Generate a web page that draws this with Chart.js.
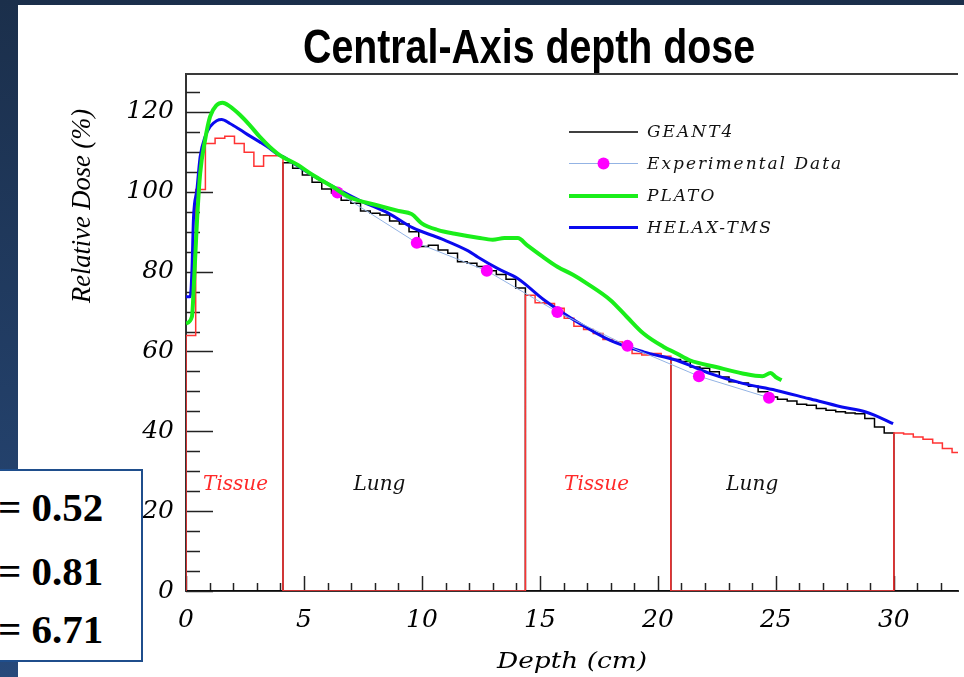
<!DOCTYPE html>
<html lang="es">
<head>
<meta charset="utf-8">
<title>Central-Axis depth dose</title>
<script src="https://cdn.jsdelivr.net/npm/chart.js@4.4.1/dist/chart.umd.min.js"></script>
<style>
  html, body { margin: 0; padding: 0; width: 964px; height: 677px; overflow: hidden; }
  body { position: relative; background: linear-gradient(#1b2f4b, #27497a); }
  #hoja { position: absolute; left: 18px; top: 5px; right: 0; bottom: 0; background: #fff; }
  #myChart { position: absolute; left: 0; top: 0; }
  .caja { position: absolute; left: -4px; top: 469px; width: 147px; height: 193px; box-sizing: border-box;
          background: #fff; border: 2px solid #1f4e8c; }
  .caja div { position: absolute; left: 0; font: bold 41px "Liberation Serif", "Times New Roman", serif;
              line-height: 41px; color: #000; white-space: nowrap; }
</style>
</head>
<body>
<div id="hoja"></div>
<canvas id="myChart" width="964" height="677"></canvas>
<div class="caja">
  <div style="top:16px">= 0.52</div>
  <div style="top:80px">= 0.81</div>
  <div style="top:138px">= 6.71</div>
</div>

<script>
// Datos (profundidad en cm, dosis relativa en %)
const ticksX = [0, 5, 10, 15, 20, 25, 30]
const ticksY = [0, 20, 40, 60, 80, 100, 120]

// GEANT4: histograma con bins de ancho fijo, por zonas
const anchoBin = 0.411
const tejido1 = [64, 100.6, 112.1, 113.4, 113.9, 112.1, 109.9, 106.4, 109, 109]
const pulmon1 = [107.3, 105.9, 104.2, 102.4, 100.7, 99.7, 97.9, 97.1, 95.2, 94.6, 94.2, 92.7, 91.9,
                 90, 86.3, 86.6, 85.4, 84.6, 82.5, 82.1, 81.3, 80.2, 79.3, 78.1, 75.9]
const tejido2 = [74.1, 72.2, 72, 70.8, 68.3, 66.3, 65.5, 64.5, 63, 62.4, 61.8, 59.5, 59.1, 59.5, 58.8]
const pulmon2 = [58, 57.5, 56.1, 55.8, 54.9, 53.6, 52.4, 52.1, 51.3, 49.9, 48.6, 48, 47.6, 46.8,
                 46.5, 45.7, 45.3, 44.9, 44.6, 44.4, 43.2, 41.1, 39.6]
const tejido3 = [39.6, 39.3, 38.6, 38, 37.1, 35.7, 34.7]

// PLATO
const platoX = [0, 0.25, 0.35, 0.46, 0.6, 0.81, 1.02, 1.3, 1.55, 1.86, 2.28, 2.7, 3.12, 3.54, 3.97,
                4.74, 5.37, 6.2, 6.91, 8.17, 9.0, 9.57, 9.99, 10.69, 11.4, 12.38, 13.0, 13.5, 14.06,
                14.48, 15.1, 15.74, 16.4, 17.0, 17.98, 18.68, 19.39, 20.23, 20.8, 21.35, 22.47, 23.59,
                24.43, 24.78, 24.99, 25.24]
const platoY = [67, 68.7, 78.7, 92, 104.6, 113, 118.8, 121.7, 122.3, 121.4, 119.3, 116.7, 113.8, 111.3,
                109.2, 106.7, 104.2, 101.3, 98.7, 96.5, 95.2, 94.4, 92.1, 90.4, 89.5, 88.5, 88, 88.4,
                88.4, 86.5, 83.8, 81.2, 79.2, 77, 72.9, 68.7, 64.5, 61.2, 59.5, 57.8, 56.1, 54.5,
                53.8, 54.6, 53.6, 52.8]

// HELAX-TMS
const helaxX = [0, 0.18, 0.25, 0.32, 0.46, 0.6, 0.81, 1.02, 1.3, 1.51, 1.86, 2.28, 2.7, 3.12, 3.54,
                3.83, 4.1, 5.23, 6.35, 7.47, 8.59, 9.6, 10.83, 11.96, 12.38, 13.2, 14.06, 15.18, 16.58,
                17.98, 19.39, 20.79, 22.19, 23.59, 24.99, 26.39, 27.8, 28.78, 29.2, 29.97]
const helaxY = [73.7, 73.7, 80, 93.7, 100.4, 108.8, 113.8, 116.3, 117.8, 118.1, 117.1, 115.6, 114,
                112.5, 110.9, 109.6, 108.8, 104.6, 100.9, 97.5, 94.6, 91, 88.2, 85.2, 83.6, 80.8,
                78.3, 72.9, 67.4, 62.8, 59.9, 57.8, 54.5, 52, 50.3, 48.2, 46.1, 44.9, 44, 41.9]

// Datos experimentales
const expX = [6.42, 9.78, 12.75, 15.74, 18.71, 21.74, 24.71]
const expY = [99.8, 87.2, 80.2, 69.9, 61.4, 53.8, 48.4]

// Rotulos de las zonas
const zonas = ['Tissue', 'Lung', 'Tissue', 'Lung']
const zonasX = [2.1, 8.2, 17.4, 24.0]
const zonasY = 27


const pares = (xs, ys) => xs.map((x, i) => ({x: x, y: ys[i]}))

// arma el contorno del histograma, las zonas que no se usan quedan en cero
const partes = [tejido1, pulmon1, tejido2, pulmon2, tejido3]
function histograma(usar){
    let puntos = [{x: 0, y: 0}]
    let i = 0
    partes.forEach((vals, p) => {
        vals.forEach(v => {
            puntos.push({x: i * anchoBin, y: usar.includes(p) ? v : 0})
            i++
        })
    })
    puntos.push({x: i * anchoBin, y: 0})
    return puntos
}

const serifIt = '"DejaVu Serif", "Liberation Serif", serif'
const timesIt = '"Liberation Serif", "Times New Roman", serif'

function texto(ctx, str, x, y, fuente, color, ancho){
    ctx.save()
    ctx.font = fuente
    ctx.fillStyle = color
    ctx.textAlign = 'center'
    ctx.textBaseline = 'alphabetic'
    ctx.translate(x, y)
    if (ancho) {
        ctx.scale(ancho / ctx.measureText(str).width, 1)
    }
    ctx.fillText(str, 0, 0)
    ctx.restore()
}

// marco estilo ROOT: ticks hacia adentro, textos y leyenda
const marco = {
    id: 'marco',
    beforeDatasetsDraw(chart){
        const {ctx, chartArea: a, scales: {x, y}} = chart
        ctx.save()
        ctx.strokeStyle = '#3a3a3a'
        ctx.lineWidth = 2
        ctx.beginPath()
        ctx.moveTo(a.left, a.top)
        ctx.lineTo(a.right, a.top)
        ctx.stroke()

        ctx.strokeStyle = '#222'
        ctx.lineWidth = 1.5
        for (let v = 0; v <= y.max; v += 5) {
            const py = Math.round(y.getPixelForValue(v)) + 0.5
            const largo = v % 20 === 0 ? 27 : 14
            ctx.beginPath()
            ctx.moveTo(a.left, py)
            ctx.lineTo(a.left + largo, py)
            ctx.stroke()
        }
        for (let v = 0; v <= x.max; v++) {
            const px = Math.round(x.getPixelForValue(v)) + 0.5
            const largo = v % 5 === 0 ? 15 : 8
            ctx.beginPath()
            ctx.moveTo(px, a.bottom)
            ctx.lineTo(px, a.bottom - largo)
            ctx.stroke()
        }
        ctx.restore()
    },
    afterDraw(chart){
        const {ctx, scales: {x, y}} = chart

        texto(ctx, 'Central-Axis depth dose', 529, 63,
              'bold 48px "Liberation Sans Narrow", "Liberation Sans", sans-serif', '#000', 452)

        // titulos de los ejes
        ctx.save()
        ctx.translate(90, 206)
        ctx.rotate(-Math.PI / 2)
        texto(ctx, 'Relative Dose (%)', 0, 0, 'italic 28px ' + timesIt, '#000', 194)
        ctx.restore()
        texto(ctx, 'Depth (cm)', 572, 668, 'italic 23px ' + serifIt, '#000', 150)

        // zonas
        zonas.forEach((z, i) => {
            ctx.save()
            ctx.font = 'italic 20px ' + serifIt
            ctx.fillStyle = z === 'Tissue' ? '#ff2a2a' : '#111'
            ctx.textAlign = 'center'
            ctx.textBaseline = 'middle'
            ctx.fillText(z, x.getPixelForValue(zonasX[i]), y.getPixelForValue(zonasY) + 2)
            ctx.restore()
        })

        // leyenda
        const items = chart.data.datasets.filter(d => d.enLeyenda !== false)
        const filas = [132, 163.5, 196, 227.5]
        items.forEach((d, i) => {
            const fy = filas[i]
            ctx.save()
            ctx.strokeStyle = d.borderColor
            ctx.lineWidth = d.borderWidth
            ctx.beginPath()
            ctx.moveTo(569, fy)
            ctx.lineTo(638, fy)
            ctx.stroke()
            if (d.pointRadius > 0) {
                ctx.fillStyle = d.pointBackgroundColor
                ctx.beginPath()
                ctx.arc(603.5, fy, d.pointRadius, 0, Math.PI * 2)
                ctx.fill()
            }
            ctx.font = 'italic 17px ' + serifIt
            ctx.letterSpacing = '2px'
            ctx.fillStyle = '#111'
            ctx.textAlign = 'left'
            ctx.textBaseline = 'middle'
            ctx.fillText(d.label, 647, fy + 1)
            ctx.restore()
        })
    }
}

const ctx = document.getElementById('myChart')

new Chart(ctx, {
    type: 'line',
    data: {
        datasets: [
            {
                label: 'GEANT4',
                data: histograma([1, 3]),
                borderColor: '#000',
                borderWidth: 1.5,
                stepped: true,
                pointRadius: 0,
                order: 5
            },
            {
                label: 'Experimental Data',
                data: pares(expX, expY),
                borderColor: '#93b3e4',
                borderWidth: 1,
                pointRadius: 6,
                pointBackgroundColor: '#ff00ff',
                pointBorderColor: '#ff00ff',
                pointBorderWidth: 0,
                order: 2
            },
            {
                label: 'PLATO',
                data: pares(platoX, platoY),
                borderColor: '#1aee1a',
                borderWidth: 4,
                pointRadius: 0,
                cubicInterpolationMode: 'monotone',
                order: 1
            },
            {
                label: 'HELAX-TMS',
                data: pares(helaxX, helaxY),
                borderColor: '#0a0aee',
                borderWidth: 3,
                pointRadius: 0,
                cubicInterpolationMode: 'monotone',
                order: 3
            },
            {
                label: 'GEANT4 (tissue)',
                data: histograma([0, 2, 4]),
                borderColor: '#ff3333',
                borderWidth: 1.5,
                stepped: true,
                pointRadius: 0,
                order: 4,
                enLeyenda: false
            }
        ]
    },
    options: {
        responsive: false,
        animation: false,
        devicePixelRatio: 1,
        layout: { padding: { top: 74, left: 0, right: 0, bottom: 0 } },
        plugins: {
            legend: { display: false },
            title: { display: false },
            tooltip: { enabled: false }
        },
        scales: {
            x: {
                type: 'linear',
                min: 0,
                max: 32.72,
                afterBuildTicks: s => { s.ticks = ticksX.map(v => ({value: v})) },
                afterFit: s => { s.height = 86 },
                grid: { display: false, drawTicks: false },
                border: { display: true, color: '#333', width: 2 },
                ticks: {
                    autoSkip: false,
                    maxRotation: 0,
                    padding: 14,
                    color: '#000',
                    font: { family: serifIt, size: 25, style: 'italic' }
                }
            },
            y: {
                min: 0,
                max: 129.5,
                afterBuildTicks: s => { s.ticks = ticksY.map(v => ({value: v})) },
                afterFit: s => { s.width = 186 },
                grid: { display: false, drawTicks: false },
                border: { display: true, color: '#333', width: 2 },
                ticks: {
                    autoSkip: false,
                    padding: 12,
                    color: '#000',
                    font: { family: serifIt, size: 25, style: 'italic' }
                }
            }
        }
    },
    plugins: [marco]
})
</script>
</body>
</html>
